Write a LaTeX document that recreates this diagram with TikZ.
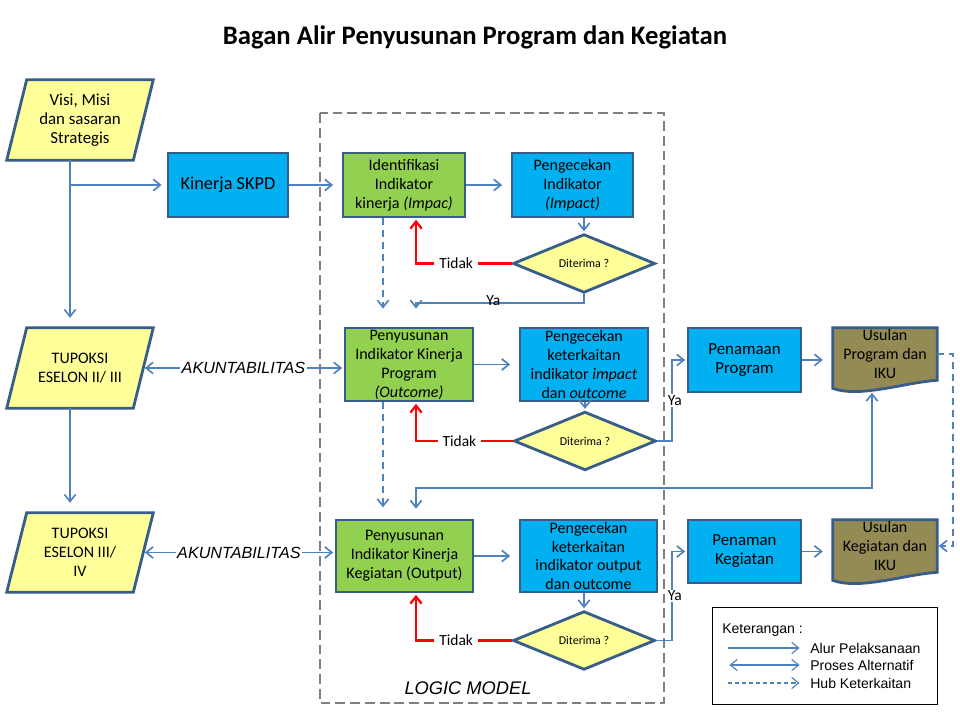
\documentclass[tikz,border=0pt]{standalone}
\usepackage{fontspec}
\setmainfont{Carlito}
\newfontfamily\arialfont{Liberation Sans}
\usetikzlibrary{
  arrows.meta,
  backgrounds,
  calc,
  positioning,
  shapes.geometric,
}
\definecolor{boxline}{RGB}{56,93,138}
\definecolor{flowblue}{RGB}{79,129,189}
\definecolor{skyfill}{RGB}{0,176,240}
\definecolor{leaffill}{RGB}{146,208,80}
\definecolor{paperfill}{RGB}{255,255,153}
\definecolor{olivefill}{RGB}{148,138,84}
\definecolor{modelgrey}{RGB}{128,128,128}
\tikzset{
  >={Straight Barb[length=5pt,width=8pt]},
  shorten >=1pt,
  textbox/.style={inner sep=0pt, align=center, font=\fontsize{11.4}{13.5}\selectfont},
  box/.style={textbox, draw=boxline, line width=2pt},
  skybox/.style={box, fill=skyfill},
  leafbox/.style={box, fill=leaffill},
  decision/.style={diamond, draw=boxline, line width=2pt, fill=paperfill, inner sep=0pt,
    minimum width=3.55cm, minimum height=1.175cm, font=\fontsize{8.5}{10}\selectfont},
  parabox/.style={draw=boxline, line width=2pt, fill=paperfill},
  docbox/.style={draw=boxline, line width=2pt, fill=olivefill},
  flow/.style={->, draw=flowblue, line width=1.2pt},
  alt/.style={<->, draw=flowblue, line width=1.2pt, shorten <=1pt},
  hub/.style={->, draw=flowblue, line width=1.2pt, dash pattern=on 5pt off 3.5pt},
  nope/.style={->, draw=red, line width=1.6pt},
  tag/.style={fill=white, inner sep=3.5pt, font=\fontsize{11}{13}\selectfont},
  akun/.style={fill=white, inner sep=1pt, font=\arialfont\itshape\fontsize{11.5}{13}\selectfont},
  legtext/.style={inner sep=0pt, anchor=west, font=\arialfont\fontsize{10}{12}\selectfont},
  logic/.style={draw=modelgrey, line width=2pt, dash pattern=on 7pt off 3.5pt},
}

\begin{document}
\begin{tikzpicture}[x=0.025cm, y=-0.025cm]
  \useasboundingbox (0,0) rectangle (960,720);

  \node[font=\fontsize{19}{23}\selectfont\bfseries] (title) at (475,37) {Bagan Alir Penyusunan Program dan Kegiatan};

  \draw[logic] (320,113) rectangle (664,703);
  \node[font=\arialfont\itshape\fontsize{13}{15}\selectfont] (logicname) at (468,688) {LOGIC MODEL};

  % left column
  \node[textbox, minimum width=3.15cm, minimum height=2cm, font=\fontsize{12}{13.5}\selectfont] (visi) at (80,120) {Visi, Misi\\dan sasaran\\Strategis};
  \node[textbox, minimum width=3.15cm, minimum height=2cm] (tup1) at (80,368) {TUPOKSI\\ESELON II/ III};
  \node[textbox, minimum width=3.15cm, minimum height=1.975cm] (tup2) at (80,552.5) {TUPOKSI\\ESELON III/\\IV};
  \node[skybox, minimum width=3cm, minimum height=1.6cm, font=\fontsize{13}{15}\selectfont] (skpd) at (228,185) {Kinerja SKPD};

  % impact row
  \node[leafbox, minimum width=3.05cm, minimum height=1.6cm] (ident) at (404,185) {Identifikasi\\Indikator\\kinerja \textit{(Impac)}};
  \node[skybox, minimum width=3.025cm, minimum height=1.6cm] (cekimp) at (572.5,185) {Pengecekan\\Indikator\\\textit{(Impact)}};
  \node[decision] (d1) at (584,263.5) {Diterima ?};

  % program row
  \node[leafbox, minimum width=3.2cm, minimum height=1.825cm] (prog) at (409,364.5) {Penyusunan\\Indikator Kinerja\\Program\\\textit{(Outcome)}};
  \node[skybox, minimum width=3.2cm, minimum height=1.825cm] (cekout) at (584,364.5) {Pengecekan\\keterkaitan\\indikator \textit{impact}\\dan \textit{outcome}};
  \node[decision] (d2) at (585,441) {Diterima ?};
  \node[skybox, minimum width=2.825cm, minimum height=1.6cm, font=\fontsize{12}{13.5}\selectfont] (pnprog) at (744.5,360) {Penamaan\\Program};
  \node[textbox, minimum width=2.6cm, minimum height=1.3cm] (usprog) at (885,354) {Usulan\\Program dan\\IKU};

  % kegiatan row
  \node[leafbox, minimum width=3.425cm, minimum height=1.8cm] (keg) at (404.5,556) {Penyusunan\\Indikator Kinerja\\Kegiatan (Output)};
  \node[skybox, minimum width=3.425cm, minimum height=1.8cm] (cekkeg) at (588.5,556) {Pengecekan\\keterkaitan\\indikator output\\dan outcome};
  \node[decision] (d3) at (584,640.5) {Diterima ?};
  \node[skybox, minimum width=2.825cm, minimum height=1.575cm, font=\fontsize{12}{13.5}\selectfont] (pnkeg) at (744.5,551.5) {Penaman\\Kegiatan};
  \node[textbox, minimum width=2.6cm, minimum height=1.3cm] (uskeg) at (885,546) {Usulan\\Kegiatan dan\\IKU};

  % legend
  \node[draw, line width=0.7pt, minimum width=5.6cm, minimum height=2.4cm] (legend) at (825,656) {};
  \node[legtext] (legtitle) at (722,630) {Keterangan :};
  \node[legtext] (lflow) at (810,648) {Alur Pelaksanaan};
  \node[legtext] (lalt) at (810,665) {Proses Alternatif};
  \node[legtext] (lhub) at (810,683) {Hub Keterkaitan};
  \draw[flow, line width=0.8pt] ($(lflow.west)+(-82,0)$) -- ($(lflow.west)+(-9,0)$);
  \draw[alt, line width=0.8pt] ($(lalt.west)+(-82,0)$) -- ($(lalt.west)+(-9,0)$);
  \draw[hub, line width=0.8pt, dash pattern=on 3pt off 2pt] ($(lhub.west)+(-82,0)$) -- ($(lhub.west)+(-9,0)$);

  \coordinate (rx) at (416,0);
  \coordinate (hx) at (383,0);
  \coordinate (yx) at (672,0);
  \coordinate (vb) at ($(visi.south)+(-10,0)$);
  \coordinate (tb) at ($(tup1.south)+(-10,0)$);
  \coordinate (yabend) at (416,303);
  \coordinate (altbend) at (872,488);
  \coordinate (usprogb) at ($(usprog.south)+(-13,11)$);

  \draw[flow, shorten >=7pt] (vb) -- (vb |- tup1.north);
  \draw[flow, shorten >=3.5pt] (vb |- skpd.west) -- (skpd.west);
  \draw[flow, shorten >=7pt] (tb) -- (tb |- tup2.north);
  \draw[alt] (tup1.east -| prog.west) -- node[akun]{AKUNTABILITAS} (tup1.east);
  \draw[alt] (tup2.east -| keg.west) -- node[akun]{AKUNTABILITAS} (tup2.east);

  \draw[flow, shorten >=6pt] (skpd) -- (ident);
  \draw[flow, shorten >=6pt] (ident) -- (cekimp);
  \draw[flow] (cekimp.south -| d1.north) -- (d1.north);
  \draw[nope] (d1.west) -- node[tag, pos=0.58]{Tidak} (d1.west -| rx) -- (rx |- ident.south);
  \draw[flow, shorten >=0.45cm] (d1.south) |- node[pos=0.77, anchor=base, yshift=-2pt, inner sep=0pt, font=\fontsize{11}{13}\selectfont]{Ya} (yabend) -- (yabend |- prog.north);
  \draw[hub, shorten >=0.45cm] (hx |- ident.south) -- (hx |- prog.north);

  \draw[flow, shorten >=6pt] (prog) -- (cekout);
  \draw[flow] (cekout.south -| d2.north) -- (d2.north);
  \draw[nope] (d2.west) -- node[tag, pos=0.55]{Tidak} (d2.west -| rx) -- (rx |- prog.south);
  \draw[flow] (d2.east) -- (d2.east -| yx) -- node[tag, inner sep=1pt, xshift=2pt]{Ya} (yx |- pnprog.west) -- (pnprog.west);
  \draw[flow, shorten >=7pt] (pnprog.east) -- (pnprog.east -| usprog.west);
  \draw[alt, shorten <=7pt] (rx |- keg.north) |- (altbend) -- (usprogb);
  \draw[hub, shorten >=8pt] (hx |- prog.south) -- (hx |- keg.north);

  \draw[flow, shorten >=6pt] (keg) -- (cekkeg);
  \draw[flow] (cekkeg.south -| d3.north) -- (d3.north);
  \draw[nope] (d3.west) -- node[tag, pos=0.58]{Tidak} (d3.west -| rx) -- (rx |- keg.south);
  \draw[flow] (d3.east) -- (d3.east -| yx) -- node[tag, inner sep=1pt, xshift=2pt]{Ya} (yx |- pnkeg.west) -- (pnkeg.west);
  \draw[flow, shorten >=7pt] (pnkeg.east) -- (pnkeg.east -| uskeg.west);
  \draw[hub] (usprog.east) -- ++(16,0) |- (uskeg.east);

  \begin{scope}[on background layer]
    \foreach \n in {visi,tup1,tup2}
      \draw[parabox] ($(\n.north west)+(10,0)$) -- ($(\n.north east)+(10,0)$)
        -- ($(\n.south east)+(-10,0)$) -- ($(\n.south west)+(-10,0)$) -- cycle;
    \foreach \n in {usprog,uskeg}
      \draw[docbox] (\n.north west) -- (\n.north east) -- (\n.south east)
        .. controls ($(\n.south east)+(-32,2)$) and ($(\n.south west)+(27,18)$) .. ($(\n.south west)+(0,8)$) -- cycle;
  \end{scope}
\end{tikzpicture}
\end{document}
